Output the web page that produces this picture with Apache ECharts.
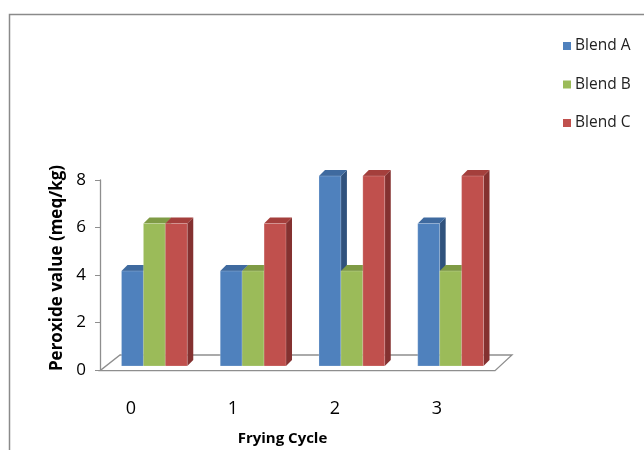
<!DOCTYPE html>
<html><head><meta charset="utf-8">
<script src="https://cdn.jsdelivr.net/npm/echarts@6/dist/echarts.min.js"></script>
<style>html,body{margin:0;padding:0;background:#fff}#c{width:644px;height:450px}</style>
</head><body><div id="c"></div>
<script>
var categories = ['0', '1', '2', '3'];
var seriesNames = ['Blend A', 'Blend B', 'Blend C'];
var blendA = [4, 4, 8, 6];
var blendB = [6, 4, 4, 4];
var blendC = [6, 6, 8, 8];
var yTicks = [0, 2, 4, 6, 8];

var FONT = "'Open Sans', sans-serif";
var palette = [
  {front: '#4F81BD', top: '#3F6A9F', side: '#30527D'},
  {front: '#9BBB59', top: '#7F9B45', side: '#6E8839'},
  {front: '#C0504D', top: '#A43F3C', side: '#843130'}
];
var DX = 6, DY = 6, SHIFT_X = 5, SHIFT_Y = 4;

function makeRender(si) {
  var c = palette[si];
  return function (params, api) {
    var cat = api.value(0), v = api.value(1);
    var base = api.coord([cat, 0]);
    var topP = api.coord([cat, v]);
    var bw = api.size([1, 0])[0] * 0.222;
    var x0 = base[0] - 1.5 * bw + si * bw + SHIFT_X;
    var yb = base[1] - SHIFT_Y, yt = topP[1] - SHIFT_Y;
    return {
      type: 'group',
      children: [
        {type: 'polygon', shape: {points: [[x0 + bw, yt], [x0 + bw + DX, yt - DY], [x0 + bw + DX, yb - DY], [x0 + bw, yb]]}, style: {fill: c.side}},
        {type: 'polygon', shape: {points: [[x0, yt], [x0 + DX, yt - DY], [x0 + bw + DX, yt - DY], [x0 + bw, yt]]}, style: {fill: c.top}},
        {type: 'rect', shape: {x: x0, y: yt, width: bw, height: yb - yt}, style: {fill: c.front, stroke: 'rgba(255,255,255,0.25)', lineWidth: 0.8}}
      ]
    };
  };
}

function toData(arr) { return arr.map(function (v, i) { return [i, v]; }); }
var seriesData = [blendA, blendB, blendC];

var series = [{
  type: 'custom', name: 'floor', z: 1, silent: true,
  data: [[0, 0]],
  renderItem: function (params, api) {
    var cs = params.coordSys;
    var x = cs.x, y = cs.y + cs.height, w = cs.width;
    return {
      type: 'polygon',
      shape: {points: [[x, y + 0.7], [x + w, y + 0.7], [x + w + 17, y - 15], [x + 20, y - 15]]},
      style: {fill: '#fff', stroke: '#8E8E8E', lineWidth: 1.3}
    };
  }
}];
seriesData.forEach(function (arr, si) {
  series.push({
    type: 'custom', name: seriesNames[si], z: 2,
    itemStyle: {color: palette[si].front},
    data: toData(arr),
    renderItem: makeRender(si)
  });
});

var chart = echarts.init(document.getElementById('c'), null, {renderer: 'canvas'});
chart.setOption({
  animation: false,
  textStyle: {fontFamily: FONT},
  graphic: [{type: 'rect', left: 7, top: 12, shape: {width: 700, height: 500}, style: {fill: 'none', stroke: '#8A8A8A', lineWidth: 1.5}, z: 0}],
  legend: {
    data: seriesNames, orient: 'vertical', left: 558, top: 33,
    itemWidth: 8, itemHeight: 8, itemGap: 22.5, icon: 'rect',
    textStyle: {fontSize: 15.5, color: '#222', fontFamily: FONT, padding: [0, 0, 0, -1]}
  },
  grid: [
    {left: 100, right: 149, top: 180, bottom: 80},
    {left: 80, width: 408, top: 180, bottom: 80}
  ],
  xAxis: [{
    type: 'category', data: categories, gridIndex: 0,
    axisLine: {show: false}, axisTick: {show: false},
    axisLabel: {show: false},
    name: 'Frying Cycle', nameLocation: 'middle', nameGap: 61,
    nameTextStyle: {fontSize: 15, fontWeight: 'bold', color: '#000', fontFamily: FONT, padding: [0, 30, 0, 0]}
  }, {
    type: 'category', data: categories, gridIndex: 1,
    axisLine: {show: false}, axisTick: {show: false},
    axisLabel: {fontSize: 18, color: '#000', margin: 30, fontFamily: FONT}
  }],
  yAxis: [{
    type: 'value', min: yTicks[0], max: yTicks[yTicks.length - 1], interval: 2, gridIndex: 0,
    axisLine: {show: true, lineStyle: {color: '#8E8E8E', width: 1.3}},
    axisTick: {show: true, length: 5, lineStyle: {color: '#8E8E8E'}},
    splitLine: {show: false},
    axisLabel: {fontSize: 17, color: '#000', margin: 14, fontFamily: FONT},
    name: 'Peroxide value (meq/kg)', nameLocation: 'middle', nameGap: 30,
    nameTextStyle: {fontSize: 17, fontWeight: 'bold', color: '#000', fontFamily: FONT, padding: [0, 0, 0, 14]}
  }, {
    type: 'value', gridIndex: 1, min: 0, max: 8, show: false
  }],
  series: series
});
</script></body></html>
